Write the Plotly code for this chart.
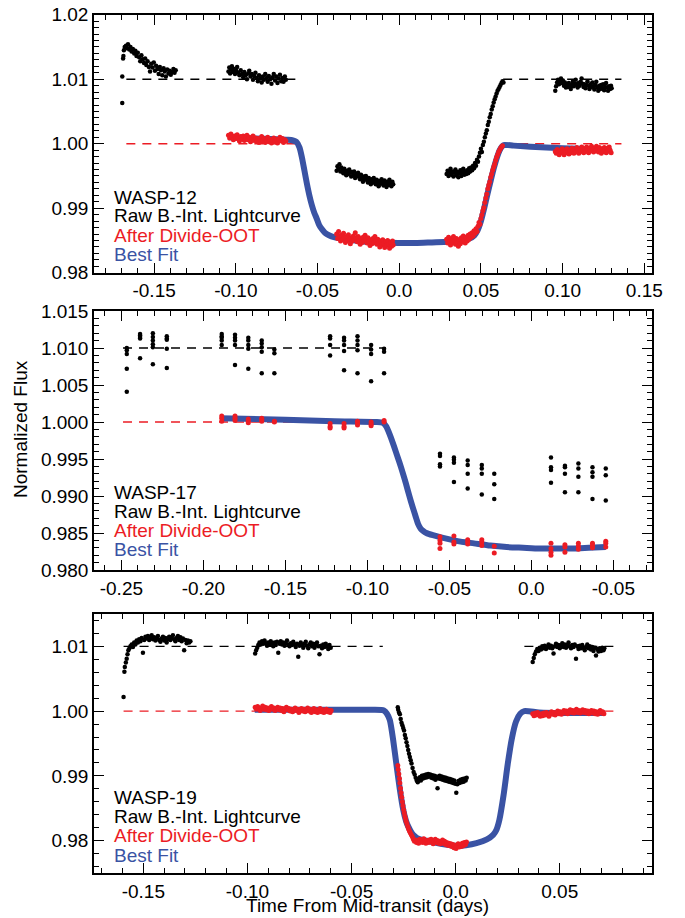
import plotly.graph_objects as go

# ---------------- data: WASP-12 (top panel) ----------------
w12_raw = [
    (-0.1695, 1.0063), (-0.1695, 1.0104), (-0.1690, 1.0132), (-0.1688, 1.0136), (-0.1685, 1.0145), (-0.1680, 1.0150),
    (-0.1672, 1.0152), (-0.1665, 1.0148), (-0.1660, 1.0154), (-0.1652, 1.0146), (-0.1645, 1.0150), (-0.1638, 1.0143),
    (-0.1630, 1.0147), (-0.1622, 1.0140), (-0.1615, 1.0144), (-0.1608, 1.0136), (-0.1600, 1.0141), (-0.1592, 1.0134),
    (-0.1585, 1.0128), (-0.1578, 1.0137), (-0.1570, 1.0131), (-0.1562, 1.0125), (-0.1555, 1.0132), (-0.1548, 1.0122),
    (-0.1540, 1.0128), (-0.1532, 1.0119), (-0.1525, 1.0112), (-0.1518, 1.0124), (-0.1510, 1.0118), (-0.1502, 1.0126),
    (-0.1495, 1.0113), (-0.1488, 1.0121), (-0.1480, 1.0116), (-0.1472, 1.0108), (-0.1465, 1.0119), (-0.1458, 1.0114),
    (-0.1450, 1.0106), (-0.1442, 1.0117), (-0.1435, 1.0112), (-0.1428, 1.0104), (-0.1420, 1.0115), (-0.1412, 1.0109),
    (-0.1405, 1.0113), (-0.1398, 1.0107), (-0.1390, 1.0111), (-0.1382, 1.0116), (-0.1375, 1.0110), (-0.1368, 1.0114),
    (-0.1045, 1.0112), (-0.1040, 1.0118), (-0.1035, 1.0109), (-0.1030, 1.0115), (-0.1024, 1.0120), (-0.1018, 1.0111),
    (-0.1012, 1.0116), (-0.1005, 1.0108), (-0.0998, 1.0113), (-0.0992, 1.0119), (-0.0985, 1.0110), (-0.0978, 1.0106),
    (-0.0970, 1.0114), (-0.0962, 1.0108), (-0.0955, 1.0103), (-0.0948, 1.0111), (-0.0940, 1.0106), (-0.0932, 1.0100),
    (-0.0925, 1.0109), (-0.0918, 1.0113), (-0.0910, 1.0104), (-0.0902, 1.0108), (-0.0895, 1.0099), (-0.0888, 1.0105),
    (-0.0880, 1.0110), (-0.0872, 1.0102), (-0.0865, 1.0097), (-0.0858, 1.0106), (-0.0850, 1.0101), (-0.0842, 1.0095),
    (-0.0835, 1.0104), (-0.0828, 1.0099), (-0.0820, 1.0108), (-0.0812, 1.0102), (-0.0805, 1.0096), (-0.0798, 1.0105),
    (-0.0790, 1.0100), (-0.0782, 1.0093), (-0.0775, 1.0103), (-0.0768, 1.0108), (-0.0760, 1.0098), (-0.0752, 1.0104),
    (-0.0745, 1.0094), (-0.0738, 1.0101), (-0.0730, 1.0107), (-0.0722, 1.0097), (-0.0715, 1.0102), (-0.0708, 1.0096),
    (-0.0700, 1.0104), (-0.0694, 1.0099),
    (-0.0383, 0.9958), (-0.0378, 0.9965), (-0.0372, 0.9961), (-0.0366, 0.9968), (-0.0360, 0.9957), (-0.0354, 0.9963),
    (-0.0348, 0.9959), (-0.0342, 0.9954), (-0.0336, 0.9961), (-0.0330, 0.9956), (-0.0324, 0.9951), (-0.0318, 0.9958),
    (-0.0312, 0.9953), (-0.0306, 0.9960), (-0.0300, 0.9955), (-0.0294, 0.9949), (-0.0288, 0.9956), (-0.0282, 0.9951),
    (-0.0276, 0.9957), (-0.0270, 0.9947), (-0.0264, 0.9953), (-0.0258, 0.9949), (-0.0252, 0.9955), (-0.0246, 0.9950),
    (-0.0240, 0.9945), (-0.0234, 0.9952), (-0.0228, 0.9947), (-0.0222, 0.9941), (-0.0216, 0.9949), (-0.0210, 0.9944),
    (-0.0204, 0.9950), (-0.0198, 0.9945), (-0.0192, 0.9940), (-0.0186, 0.9947), (-0.0180, 0.9942), (-0.0174, 0.9937),
    (-0.0168, 0.9945), (-0.0162, 0.9940), (-0.0156, 0.9947), (-0.0150, 0.9942), (-0.0144, 0.9937), (-0.0138, 0.9944),
    (-0.0132, 0.9939), (-0.0126, 0.9934), (-0.0120, 0.9942), (-0.0114, 0.9938), (-0.0108, 0.9945), (-0.0102, 0.9940),
    (-0.0096, 0.9935), (-0.0090, 0.9943), (-0.0084, 0.9938), (-0.0078, 0.9933), (-0.0072, 0.9941), (-0.0066, 0.9936),
    (-0.0060, 0.9944), (-0.0054, 0.9939), (-0.0048, 0.9934), (-0.0042, 0.9941), (-0.0037, 0.9937),
    (0.0290, 0.9953), (0.0296, 0.9958), (0.0302, 0.9950), (0.0308, 0.9956), (0.0314, 0.9961), (0.0320, 0.9952),
    (0.0326, 0.9957), (0.0332, 0.9949), (0.0338, 0.9955), (0.0344, 0.9960), (0.0350, 0.9951), (0.0356, 0.9956),
    (0.0362, 0.9948), (0.0368, 0.9954), (0.0374, 0.9959), (0.0380, 0.9950), (0.0386, 0.9956), (0.0392, 0.9961),
    (0.0398, 0.9952), (0.0404, 0.9957), (0.0410, 0.9953), (0.0416, 0.9959), (0.0422, 0.9954), (0.0428, 0.9962),
    (0.0434, 0.9957), (0.0440, 0.9963), (0.0446, 0.9959), (0.0452, 0.9966), (0.0458, 0.9962), (0.0464, 0.9970),
    (0.0470, 0.9966), (0.0476, 0.9975), (0.0482, 0.9972), (0.0488, 0.9980), (0.0494, 0.9986), (0.0500, 0.9992),
    (0.0506, 0.9987), (0.0512, 0.9998), (0.0518, 1.0003), (0.0524, 1.0010), (0.0530, 1.0016), (0.0536, 1.0021),
    (0.0542, 1.0029), (0.0548, 1.0034), (0.0554, 1.0041), (0.0560, 1.0046), (0.0566, 1.0053), (0.0572, 1.0058),
    (0.0578, 1.0064), (0.0584, 1.0069), (0.0590, 1.0073), (0.0596, 1.0078), (0.0602, 1.0082), (0.0608, 1.0085),
    (0.0614, 1.0088), (0.0620, 1.0091), (0.0626, 1.0094), (0.0632, 1.0097), (0.0638, 1.0095),
    (0.0955, 1.0082), (0.0960, 1.0089), (0.0966, 1.0095), (0.0972, 1.0099), (0.0978, 1.0092), (0.0984, 1.0097),
    (0.0990, 1.0101), (0.0996, 1.0094), (0.1002, 1.0098), (0.1008, 1.0090), (0.1014, 1.0095), (0.1020, 1.0087),
    (0.1026, 1.0092), (0.1032, 1.0088), (0.1038, 1.0094), (0.1044, 1.0089), (0.1050, 1.0085), (0.1056, 1.0091),
    (0.1062, 1.0096), (0.1068, 1.0089), (0.1074, 1.0093), (0.1080, 1.0099), (0.1086, 1.0092), (0.1092, 1.0087),
    (0.1098, 1.0094), (0.1104, 1.0090), (0.1110, 1.0096), (0.1116, 1.0101), (0.1122, 1.0093), (0.1128, 1.0088),
    (0.1134, 1.0092), (0.1140, 1.0086), (0.1146, 1.0091), (0.1152, 1.0097), (0.1158, 1.0090), (0.1164, 1.0085),
    (0.1170, 1.0092), (0.1176, 1.0088), (0.1182, 1.0095), (0.1188, 1.0089), (0.1194, 1.0084), (0.1200, 1.0091),
    (0.1206, 1.0096), (0.1212, 1.0087), (0.1218, 1.0082), (0.1224, 1.0090), (0.1230, 1.0085), (0.1236, 1.0091),
    (0.1242, 1.0086), (0.1248, 1.0092), (0.1254, 1.0083), (0.1260, 1.0088), (0.1266, 1.0094), (0.1272, 1.0087),
    (0.1278, 1.0082), (0.1284, 1.0089), (0.1290, 1.0085), (0.1296, 1.0090), (0.1300, 1.0086),
]
w12_oot = [
    (-0.1045, 1.0013), (-0.1038, 1.0009), (-0.1030, 1.0015), (-0.1022, 1.0010), (-0.1015, 1.0006), (-0.1008, 1.0012),
    (-0.1000, 1.0008), (-0.0992, 1.0014), (-0.0985, 1.0009), (-0.0978, 1.0004), (-0.0970, 1.0011), (-0.0962, 1.0007),
    (-0.0955, 1.0012), (-0.0948, 1.0005), (-0.0940, 1.0009), (-0.0932, 1.0013), (-0.0925, 1.0006), (-0.0918, 1.0010),
    (-0.0910, 1.0003), (-0.0902, 1.0008), (-0.0895, 1.0012), (-0.0888, 1.0005), (-0.0880, 1.0009), (-0.0872, 1.0004),
    (-0.0865, 1.0008), (-0.0858, 1.0002), (-0.0850, 1.0007), (-0.0842, 1.0011), (-0.0835, 1.0004), (-0.0828, 1.0008),
    (-0.0820, 1.0002), (-0.0812, 1.0006), (-0.0805, 1.0010), (-0.0798, 1.0003), (-0.0790, 1.0007), (-0.0782, 1.0001),
    (-0.0775, 1.0005), (-0.0768, 1.0009), (-0.0760, 1.0003), (-0.0752, 1.0007), (-0.0745, 1.0001), (-0.0738, 1.0006),
    (-0.0730, 1.0010), (-0.0722, 1.0004), (-0.0715, 1.0008), (-0.0708, 1.0002), (-0.0700, 1.0006), (-0.0694, 1.0004),
    (-0.0383, 0.9860), (-0.0377, 0.9853), (-0.0371, 0.9864), (-0.0365, 0.9857), (-0.0359, 0.9849), (-0.0353, 0.9858),
    (-0.0347, 0.9852), (-0.0341, 0.9861), (-0.0335, 0.9855), (-0.0329, 0.9847), (-0.0323, 0.9856), (-0.0317, 0.9850),
    (-0.0311, 0.9859), (-0.0305, 0.9853), (-0.0299, 0.9845), (-0.0293, 0.9854), (-0.0287, 0.9849), (-0.0281, 0.9857),
    (-0.0275, 0.9851), (-0.0269, 0.9862), (-0.0263, 0.9854), (-0.0257, 0.9848), (-0.0251, 0.9856), (-0.0245, 0.9850),
    (-0.0239, 0.9844), (-0.0233, 0.9853), (-0.0227, 0.9847), (-0.0221, 0.9855), (-0.0215, 0.9849), (-0.0209, 0.9858),
    (-0.0203, 0.9852), (-0.0197, 0.9846), (-0.0191, 0.9854), (-0.0185, 0.9848), (-0.0179, 0.9842), (-0.0173, 0.9851),
    (-0.0167, 0.9845), (-0.0161, 0.9853), (-0.0155, 0.9847), (-0.0149, 0.9856), (-0.0143, 0.9850), (-0.0137, 0.9844),
    (-0.0131, 0.9852), (-0.0125, 0.9846), (-0.0119, 0.9840), (-0.0113, 0.9849), (-0.0107, 0.9843), (-0.0101, 0.9851),
    (-0.0095, 0.9845), (-0.0089, 0.9839), (-0.0083, 0.9848), (-0.0077, 0.9842), (-0.0071, 0.9850), (-0.0065, 0.9844),
    (-0.0059, 0.9838), (-0.0053, 0.9847), (-0.0047, 0.9841), (-0.0041, 0.9849), (-0.0037, 0.9843),
    (0.0290, 0.9852), (0.0296, 0.9846), (0.0302, 0.9855), (0.0308, 0.9849), (0.0314, 0.9843), (0.0320, 0.9852),
    (0.0326, 0.9847), (0.0332, 0.9856), (0.0338, 0.9850), (0.0344, 0.9844), (0.0350, 0.9853), (0.0356, 0.9847),
    (0.0362, 0.9841), (0.0368, 0.9851), (0.0374, 0.9845), (0.0380, 0.9854), (0.0386, 0.9848), (0.0392, 0.9857),
    (0.0398, 0.9851), (0.0404, 0.9846), (0.0410, 0.9855), (0.0416, 0.9849), (0.0422, 0.9858), (0.0428, 0.9852),
    (0.0434, 0.9860), (0.0440, 0.9855), (0.0446, 0.9862), (0.0452, 0.9857), (0.0458, 0.9865), (0.0464, 0.9861),
    (0.0470, 0.9868), (0.0476, 0.9864), (0.0482, 0.9872), (0.0488, 0.9878), (0.0494, 0.9875), (0.0500, 0.9884),
    (0.0506, 0.9890), (0.0512, 0.9896), (0.0518, 0.9901), (0.0524, 0.9909), (0.0530, 0.9916), (0.0536, 0.9922),
    (0.0542, 0.9930), (0.0548, 0.9936), (0.0554, 0.9941), (0.0560, 0.9948), (0.0566, 0.9953), (0.0572, 0.9959),
    (0.0578, 0.9964), (0.0584, 0.9968), (0.0590, 0.9974), (0.0596, 0.9979), (0.0602, 0.9983), (0.0608, 0.9987),
    (0.0614, 0.9990), (0.0620, 0.9993), (0.0626, 0.9995), (0.0632, 0.9997),
    (0.0955, 0.9988), (0.0961, 0.9985), (0.0967, 0.9991), (0.0973, 0.9987), (0.0979, 0.9983), (0.0985, 0.9989),
    (0.0991, 0.9986), (0.0997, 0.9992), (0.1003, 0.9987), (0.1009, 0.9983), (0.1015, 0.9990), (0.1021, 0.9986),
    (0.1027, 0.9992), (0.1033, 0.9988), (0.1039, 0.9984), (0.1045, 0.9990), (0.1051, 0.9986), (0.1057, 0.9993),
    (0.1063, 0.9989), (0.1069, 0.9985), (0.1075, 0.9991), (0.1081, 0.9987), (0.1087, 0.9994), (0.1093, 0.9989),
    (0.1099, 0.9985), (0.1105, 0.9991), (0.1111, 0.9988), (0.1117, 0.9995), (0.1123, 0.9990), (0.1129, 0.9986),
    (0.1135, 0.9992), (0.1141, 0.9988), (0.1147, 0.9995), (0.1153, 0.9991), (0.1159, 0.9986), (0.1165, 0.9993),
    (0.1171, 0.9989), (0.1177, 0.9996), (0.1183, 0.9991), (0.1189, 0.9987), (0.1195, 0.9993), (0.1201, 0.9989),
    (0.1207, 0.9996), (0.1213, 0.9992), (0.1219, 0.9987), (0.1225, 0.9994), (0.1231, 0.9990), (0.1237, 0.9985),
    (0.1243, 0.9992), (0.1249, 0.9988), (0.1255, 0.9994), (0.1261, 0.9990), (0.1267, 0.9986), (0.1273, 0.9993),
    (0.1279, 0.9989), (0.1285, 0.9995), (0.1291, 0.9990), (0.1297, 0.9986),
]
w12_fit_t = [-0.1046, -0.0900, -0.0750, -0.0680, -0.0650, -0.0630, -0.0610, -0.0595, -0.0580, -0.0565, -0.0550,
             -0.0535, -0.0520, -0.0505, -0.0490, -0.0475, -0.0455, -0.0430, -0.0400, -0.0300, -0.0200, -0.0100,
             0.0000, 0.0100, 0.0200, 0.0300, 0.0380, 0.0430, 0.0460, 0.0480, 0.0500, 0.0520, 0.0540, 0.0560,
             0.0580, 0.0600, 0.0615, 0.0630, 0.0640, 0.0700, 0.0900, 0.1100, 0.1300]
w12_fit_f = [1.0010, 1.0008, 1.0007, 1.0006, 1.0005, 1.0003, 0.9994, 0.9978, 0.9958, 0.9938, 0.9920,
             0.9905, 0.9893, 0.9884, 0.9874, 0.9868, 0.9862, 0.9858, 0.9855, 0.9851, 0.9848, 0.9847,
             0.9846, 0.9846, 0.9847, 0.9848, 0.9850, 0.9853, 0.9858, 0.9866, 0.9880, 0.9900, 0.9922, 0.9943,
             0.9963, 0.9980, 0.9990, 0.9996, 0.9998, 0.9997, 0.9994, 0.9992, 0.9989]
w12_ref_spans = [(-0.167, -0.063), (0.0636, 0.136)]

# ---------------- data: WASP-17 (middle panel) ----------------
w17_raw_groups = [
    (-0.2467, [1.0100, 1.0097, 1.0092, 1.0072, 1.0041]),
    (-0.2386, [1.0119, 1.0117, 1.0115, 1.0113, 1.0086]),
    (-0.2308, [1.0120, 1.0115, 1.0110, 1.0105, 1.0101, 1.0078]),
    (-0.2223, [1.0116, 1.0113, 1.0111, 1.0099, 1.0073]),
    (-0.1888, [1.0119, 1.0116, 1.0114, 1.0110, 1.0104]),
    (-0.1807, [1.0118, 1.0114, 1.0110, 1.0104, 1.0077]),
    (-0.1726, [1.0114, 1.0110, 1.0104, 1.0099, 1.0072]),
    (-0.1644, [1.0110, 1.0106, 1.0101, 1.0095, 1.0066]),
    (-0.1567, [1.0098, 1.0093, 1.0066]),
    (-0.1227, [1.0116, 1.0113, 1.0104, 1.0090]),
    (-0.1142, [1.0114, 1.0110, 1.0104, 1.0096, 1.0070]),
    (-0.1060, [1.0116, 1.0110, 1.0104, 1.0097, 1.0066]),
    (-0.0977, [1.0104, 1.0098, 1.0092, 1.0055]),
    (-0.0898, [1.0099, 1.0095, 1.0066]),
    (-0.0557, [0.9957, 0.9954, 0.9943, 0.9940]),
    (-0.0472, [0.9952, 0.9949, 0.9945, 0.9919]),
    (-0.0388, [0.9948, 0.9942, 0.9930, 0.9910]),
    (-0.0302, [0.9942, 0.9937, 0.9930, 0.9902]),
    (-0.0226, [0.9930, 0.9916, 0.9896]),
    (0.0120, [0.9952, 0.9939, 0.9935, 0.9918]),
    (0.0205, [0.9941, 0.9939, 0.9930, 0.9905]),
    (0.0287, [0.9944, 0.9937, 0.9926, 0.9905]),
    (0.0373, [0.9939, 0.9932, 0.9926, 0.9896]),
    (0.0454, [0.9937, 0.9928, 0.9894]),
]
w17_oot_groups = [
    (-0.1888, [1.0008, 1.0005, 1.0001]),
    (-0.1807, [1.0008, 1.0005, 1.0002]),
    (-0.1726, [1.0004, 1.0001, 0.9999]),
    (-0.1644, [1.0005, 1.0003, 1.0001]),
    (-0.1567, [1.0001, 1.0000]),
    (-0.1227, [0.9998, 0.9994, 0.9992]),
    (-0.1142, [0.9998, 0.9994, 0.9992]),
    (-0.1060, [1.0001, 0.9999, 0.9996]),
    (-0.0977, [1.0000, 0.9997, 0.9995]),
    (-0.0898, [1.0002, 1.0000]),
    (-0.0557, [0.9845, 0.9840, 0.9836, 0.9829]),
    (-0.0472, [0.9846, 0.9838, 0.9835]),
    (-0.0388, [0.9841, 0.9838, 0.9835]),
    (-0.0302, [0.9841, 0.9838, 0.9833]),
    (-0.0226, [0.9832, 0.9823]),
    (0.0120, [0.9836, 0.9829, 0.9824, 0.9820]),
    (0.0205, [0.9834, 0.9831, 0.9824]),
    (0.0287, [0.9836, 0.9832, 0.9828]),
    (0.0373, [0.9836, 0.9833, 0.9830]),
    (0.0454, [0.9839, 0.9836, 0.9831]),
]
w17_fit_t = [-0.1898, -0.1500, -0.1200, -0.0950, -0.0905, -0.0885, -0.0865, -0.0845, -0.0825, -0.0805, -0.0785,
             -0.0765, -0.0745, -0.0725, -0.0705, -0.0690, -0.0675, -0.0660, -0.0640, -0.0600, -0.0550, -0.0450,
             -0.0350, -0.0250, -0.0150, -0.0050, 0.0050, 0.0150, 0.0250, 0.0350, 0.0454]
w17_fit_f = [1.0005, 1.0003, 1.0001, 1.0000, 0.9999, 0.9994, 0.9984, 0.9972, 0.9959, 0.9946, 0.9932,
             0.9917, 0.9901, 0.9886, 0.9872, 0.9862, 0.9856, 0.9853, 0.9850, 0.9847, 0.9844, 0.9839,
             0.9836, 0.9833, 0.9831, 0.9830, 0.9829, 0.9829, 0.9829, 0.9830, 0.9831]
w17_ref_spans = [(-0.249, -0.0886)]

# ---------------- data: WASP-19 (bottom panel) ----------------
w19_raw = [
    (-0.1595, 1.0022), (-0.1591, 1.0061), (-0.1589, 1.0068), (-0.1584, 1.0075), (-0.1580, 1.0081), (-0.1576, 1.0088),
    (-0.1572, 1.0094), (-0.1567, 1.0097), (-0.1562, 1.0100), (-0.1556, 1.0103), (-0.1550, 1.0099), (-0.1544, 1.0106),
    (-0.1538, 1.0103), (-0.1532, 1.0109), (-0.1526, 1.0106), (-0.1520, 1.0111), (-0.1514, 1.0108), (-0.1508, 1.0113),
    (-0.1502, 1.0090), (-0.1496, 1.0110), (-0.1490, 1.0115), (-0.1484, 1.0112), (-0.1478, 1.0116), (-0.1472, 1.0110),
    (-0.1466, 1.0113), (-0.1460, 1.0117), (-0.1454, 1.0111), (-0.1448, 1.0114), (-0.1442, 1.0109), (-0.1436, 1.0113),
    (-0.1430, 1.0116), (-0.1424, 1.0110), (-0.1418, 1.0107), (-0.1412, 1.0112), (-0.1406, 1.0115), (-0.1400, 1.0109),
    (-0.1394, 1.0113), (-0.1388, 1.0106), (-0.1382, 1.0111), (-0.1376, 1.0115), (-0.1370, 1.0110), (-0.1364, 1.0113),
    (-0.1358, 1.0117), (-0.1352, 1.0111), (-0.1346, 1.0108), (-0.1340, 1.0113), (-0.1334, 1.0116), (-0.1328, 1.0110),
    (-0.1322, 1.0114), (-0.1316, 1.0108), (-0.1310, 1.0112), (-0.1304, 1.0094), (-0.1298, 1.0110), (-0.1292, 1.0105),
    (-0.1286, 1.0109), (-0.1280, 1.0106), (-0.1274, 1.0108),
    (-0.0963, 1.0089), (-0.0958, 1.0094), (-0.0953, 1.0098), (-0.0948, 1.0102), (-0.0942, 1.0106), (-0.0936, 1.0103),
    (-0.0930, 1.0108), (-0.0924, 1.0104), (-0.0918, 1.0109), (-0.0912, 1.0105), (-0.0906, 1.0101), (-0.0900, 1.0106),
    (-0.0894, 1.0103), (-0.0888, 1.0108), (-0.0882, 1.0104), (-0.0876, 1.0100), (-0.0870, 1.0106), (-0.0864, 1.0102),
    (-0.0858, 1.0107), (-0.0852, 1.0090), (-0.0846, 1.0104), (-0.0840, 1.0108), (-0.0834, 1.0103), (-0.0828, 1.0106),
    (-0.0822, 1.0101), (-0.0816, 1.0105), (-0.0810, 1.0109), (-0.0804, 1.0103), (-0.0798, 1.0100), (-0.0792, 1.0105),
    (-0.0786, 1.0102), (-0.0780, 1.0107), (-0.0774, 1.0103), (-0.0768, 1.0099), (-0.0762, 1.0104), (-0.0756, 1.0084),
    (-0.0750, 1.0101), (-0.0744, 1.0106), (-0.0738, 1.0102), (-0.0732, 1.0098), (-0.0726, 1.0104), (-0.0720, 1.0107),
    (-0.0714, 1.0101), (-0.0708, 1.0097), (-0.0702, 1.0103), (-0.0696, 1.0106), (-0.0690, 1.0100), (-0.0684, 1.0104),
    (-0.0678, 1.0098), (-0.0672, 1.0102), (-0.0666, 1.0106), (-0.0660, 1.0100), (-0.0654, 1.0088), (-0.0648, 1.0101),
    (-0.0642, 1.0097), (-0.0636, 1.0103), (-0.0630, 1.0099), (-0.0624, 1.0104), (-0.0618, 1.0100), (-0.0612, 1.0096),
    (-0.0606, 1.0102), (-0.0600, 1.0098),
    (-0.0278, 1.0006), (-0.0276, 1.0002), (-0.0272, 0.9998), (-0.0268, 0.9995), (-0.0264, 0.9988), (-0.0260, 0.9982),
    (-0.0256, 0.9978), (-0.0252, 0.9974), (-0.0248, 0.9970), (-0.0244, 0.9963), (-0.0240, 0.9958), (-0.0236, 0.9952),
    (-0.0232, 0.9946), (-0.0228, 0.9940), (-0.0224, 0.9934), (-0.0220, 0.9929), (-0.0216, 0.9924), (-0.0212, 0.9919),
    (-0.0207, 0.9912), (-0.0202, 0.9906), (-0.0197, 0.9902), (-0.0192, 0.9897), (-0.0187, 0.9893), (-0.0182, 0.9890),
    (-0.0177, 0.9895), (-0.0172, 0.9898), (-0.0167, 0.9893), (-0.0162, 0.9900), (-0.0157, 0.9896), (-0.0152, 0.9901),
    (-0.0147, 0.9897), (-0.0142, 0.9902), (-0.0137, 0.9898), (-0.0132, 0.9903), (-0.0127, 0.9899), (-0.0122, 0.9902),
    (-0.0117, 0.9897), (-0.0112, 0.9901), (-0.0107, 0.9896), (-0.0102, 0.9900), (-0.0097, 0.9894), (-0.0092, 0.9899),
    (-0.0087, 0.9881), (-0.0082, 0.9896), (-0.0077, 0.9900), (-0.0072, 0.9895), (-0.0067, 0.9899), (-0.0062, 0.9894),
    (-0.0057, 0.9898), (-0.0052, 0.9893), (-0.0047, 0.9897), (-0.0042, 0.9892), (-0.0037, 0.9896), (-0.0032, 0.9891),
    (-0.0027, 0.9895), (-0.0022, 0.9890), (-0.0017, 0.9894), (-0.0012, 0.9889), (-0.0007, 0.9893), (-0.0002, 0.9888),
    (0.0003, 0.9874), (0.0008, 0.9887), (0.0013, 0.9892), (0.0018, 0.9889), (0.0023, 0.9894), (0.0028, 0.9890),
    (0.0033, 0.9895), (0.0038, 0.9891), (0.0043, 0.9896), (0.0048, 0.9893), (0.0053, 0.9897),
    (0.0370, 1.0076), (0.0375, 1.0082), (0.0380, 1.0088), (0.0386, 1.0092), (0.0392, 1.0096), (0.0398, 1.0093),
    (0.0404, 1.0098), (0.0410, 1.0095), (0.0416, 1.0100), (0.0422, 1.0097), (0.0428, 1.0101), (0.0434, 1.0096),
    (0.0440, 1.0099), (0.0446, 1.0103), (0.0452, 1.0098), (0.0458, 1.0101), (0.0464, 1.0097), (0.0470, 1.0089),
    (0.0476, 1.0100), (0.0482, 1.0104), (0.0488, 1.0099), (0.0494, 1.0102), (0.0500, 1.0097), (0.0506, 1.0101),
    (0.0512, 1.0105), (0.0518, 1.0099), (0.0524, 1.0103), (0.0530, 1.0098), (0.0536, 1.0102), (0.0542, 1.0106),
    (0.0548, 1.0100), (0.0554, 1.0097), (0.0560, 1.0102), (0.0566, 1.0099), (0.0572, 1.0103), (0.0578, 1.0081),
    (0.0584, 1.0100), (0.0590, 1.0096), (0.0596, 1.0101), (0.0602, 1.0097), (0.0608, 1.0102), (0.0614, 1.0098),
    (0.0620, 1.0094), (0.0626, 1.0099), (0.0632, 1.0103), (0.0638, 1.0097), (0.0644, 1.0100), (0.0650, 1.0095),
    (0.0656, 1.0099), (0.0662, 1.0093), (0.0668, 1.0098), (0.0674, 1.0086), (0.0680, 1.0096), (0.0686, 1.0092),
    (0.0692, 1.0097), (0.0698, 1.0093), (0.0704, 1.0098), (0.0710, 1.0094), (0.0714, 1.0097),
]
w19_oot = [
    (-0.0963, 1.0006), (-0.0957, 1.0003), (-0.0951, 1.0007), (-0.0945, 1.0004), (-0.0939, 1.0001), (-0.0933, 1.0005),
    (-0.0927, 1.0008), (-0.0921, 1.0003), (-0.0915, 1.0006), (-0.0909, 1.0002), (-0.0903, 1.0005), (-0.0897, 1.0001),
    (-0.0891, 1.0004), (-0.0885, 1.0007), (-0.0879, 1.0003), (-0.0873, 1.0005), (-0.0867, 1.0001), (-0.0861, 1.0004),
    (-0.0855, 1.0006), (-0.0849, 1.0002), (-0.0843, 1.0005), (-0.0837, 1.0001), (-0.0831, 1.0004), (-0.0825, 0.9999),
    (-0.0819, 1.0003), (-0.0813, 1.0006), (-0.0807, 1.0002), (-0.0801, 1.0004), (-0.0795, 1.0000), (-0.0789, 1.0003),
    (-0.0783, 0.9999), (-0.0777, 1.0002), (-0.0771, 1.0005), (-0.0765, 1.0001), (-0.0759, 1.0003), (-0.0753, 0.9998),
    (-0.0747, 1.0002), (-0.0741, 1.0004), (-0.0735, 1.0000), (-0.0729, 1.0003), (-0.0723, 0.9999), (-0.0717, 1.0002),
    (-0.0711, 1.0005), (-0.0705, 1.0000), (-0.0699, 1.0003), (-0.0693, 0.9998), (-0.0687, 1.0001), (-0.0681, 1.0004),
    (-0.0675, 0.9999), (-0.0669, 1.0002), (-0.0663, 0.9998), (-0.0657, 1.0001), (-0.0651, 1.0004), (-0.0645, 0.9999),
    (-0.0639, 1.0002), (-0.0633, 0.9998), (-0.0627, 1.0001), (-0.0621, 1.0003), (-0.0615, 0.9999), (-0.0609, 1.0001),
    (-0.0603, 0.9998), (-0.0598, 1.0001),
    (-0.0278, 0.9916), (-0.0276, 0.9910), (-0.0273, 0.9903), (-0.0270, 0.9896), (-0.0268, 0.9889), (-0.0265, 0.9881),
    (-0.0262, 0.9874), (-0.0259, 0.9867), (-0.0256, 0.9860), (-0.0253, 0.9854), (-0.0250, 0.9848), (-0.0247, 0.9843),
    (-0.0244, 0.9838), (-0.0241, 0.9834), (-0.0238, 0.9830), (-0.0234, 0.9826), (-0.0230, 0.9822), (-0.0226, 0.9818),
    (-0.0222, 0.9815), (-0.0218, 0.9812), (-0.0213, 0.9809), (-0.0208, 0.9806), (-0.0203, 0.9802), (-0.0198, 0.9799),
    (-0.0193, 0.9801), (-0.0188, 0.9797), (-0.0183, 0.9800), (-0.0178, 0.9796), (-0.0173, 0.9802), (-0.0168, 0.9798),
    (-0.0163, 0.9801), (-0.0158, 0.9797), (-0.0153, 0.9803), (-0.0148, 0.9799), (-0.0143, 0.9796), (-0.0138, 0.9800),
    (-0.0133, 0.9797), (-0.0128, 0.9801), (-0.0123, 0.9798), (-0.0118, 0.9802), (-0.0113, 0.9798), (-0.0108, 0.9795),
    (-0.0103, 0.9799), (-0.0098, 0.9802), (-0.0093, 0.9797), (-0.0088, 0.9800), (-0.0083, 0.9796), (-0.0078, 0.9799),
    (-0.0073, 0.9795), (-0.0068, 0.9798), (-0.0063, 0.9801), (-0.0058, 0.9796), (-0.0053, 0.9799), (-0.0048, 0.9794),
    (-0.0043, 0.9797), (-0.0038, 0.9793), (-0.0033, 0.9796), (-0.0028, 0.9792), (-0.0023, 0.9795), (-0.0018, 0.9791),
    (-0.0013, 0.9794), (-0.0008, 0.9789), (-0.0003, 0.9793), (0.0002, 0.9788), (0.0007, 0.9792), (0.0012, 0.9795),
    (0.0017, 0.9790), (0.0022, 0.9794), (0.0027, 0.9791), (0.0032, 0.9796), (0.0037, 0.9792), (0.0042, 0.9797),
    (0.0047, 0.9794), (0.0052, 0.9798),
    (0.0370, 0.9996), (0.0376, 0.9993), (0.0382, 0.9997), (0.0388, 0.9994), (0.0394, 0.9998), (0.0400, 0.9995),
    (0.0406, 0.9992), (0.0412, 0.9996), (0.0418, 0.9993), (0.0424, 0.9997), (0.0430, 0.9994), (0.0436, 0.9998),
    (0.0442, 0.9995), (0.0448, 0.9992), (0.0454, 0.9996), (0.0460, 0.9999), (0.0466, 0.9995), (0.0472, 0.9998),
    (0.0478, 0.9994), (0.0484, 0.9997), (0.0490, 1.0000), (0.0496, 0.9996), (0.0502, 0.9999), (0.0508, 0.9995),
    (0.0514, 0.9998), (0.0520, 1.0001), (0.0526, 0.9997), (0.0532, 1.0000), (0.0538, 0.9996), (0.0544, 0.9999),
    (0.0550, 1.0002), (0.0556, 0.9998), (0.0562, 1.0001), (0.0568, 0.9997), (0.0574, 1.0000), (0.0580, 1.0003),
    (0.0586, 0.9998), (0.0592, 1.0001), (0.0598, 0.9997), (0.0604, 1.0000), (0.0610, 1.0002), (0.0616, 0.9998),
    (0.0622, 1.0001), (0.0628, 0.9997), (0.0634, 1.0000), (0.0640, 0.9996), (0.0646, 0.9999), (0.0652, 1.0001),
    (0.0658, 0.9997), (0.0664, 1.0000), (0.0670, 0.9996), (0.0676, 0.9999), (0.0682, 0.9995), (0.0688, 0.9998),
    (0.0694, 1.0001), (0.0700, 0.9997), (0.0706, 0.9999), (0.0712, 0.9996),
]
w19_fit_t = [-0.0965, -0.0600, -0.0400, -0.0345, -0.0330, -0.0316, -0.0300, -0.0283, -0.0268, -0.0252, -0.0238,
             -0.0228, -0.0215, -0.0204, -0.0185, -0.0156, -0.0100, -0.0050, 0.0000, 0.0050, 0.0100, 0.0150,
             0.0180, 0.0195, 0.0210, 0.0230, 0.0250, 0.0270, 0.0290, 0.0310, 0.0330, 0.0400, 0.0550, 0.0714]
w19_fit_f = [1.0002, 1.0002, 1.0002, 1.0001, 0.9996, 0.9986, 0.9955, 0.9914, 0.9879, 0.9848, 0.9830,
             0.9822, 0.9814, 0.9809, 0.9804, 0.9801, 0.9797, 0.9794, 0.9792, 0.9793, 0.9796, 0.9802,
             0.9809, 0.9816, 0.9832, 0.9870, 0.9918, 0.9958, 0.9984, 0.9996, 1.0000, 0.9998, 0.9997, 0.9997]
w19_ref_spans = [(-0.1595, -0.0350), (0.0330, 0.0785)]

# ---------------- axes / labels ----------------
panel_names = ["WASP-12", "WASP-17", "WASP-19"]
legend_lines = ["Raw B.-Int. Lightcurve", "After Divide-OOT", "Best Fit"]
x_ranges = [[-0.1868, 0.1547], [-0.2667, 0.0736], [-0.1737, 0.0943]]
y_ranges = [[0.98, 1.02], [0.980, 1.015], [0.975, 1.015]]
x_tickvals = [[-0.15, -0.10, -0.05, 0.0, 0.05, 0.10, 0.15],
              [-0.25, -0.20, -0.15, -0.10, -0.05, 0.0, 0.05],
              [-0.15, -0.10, -0.05, 0.0, 0.05]]
x_ticktext = [["-0.15", "-0.10", "-0.05", "0.0", "0.05", "0.10", "0.15"],
              ["-0.25", "-0.20", "-0.15", "-0.10", "-0.05", "0.0", "-0.05"],
              ["-0.15", "-0.10", "-0.05", "0.0", "0.05"]]
y_tickvals = [[0.98, 0.99, 1.00, 1.01, 1.02],
              [0.980, 0.985, 0.990, 0.995, 1.000, 1.005, 1.010, 1.015],
              [0.98, 0.99, 1.00, 1.01]]
y_ticktext = [["0.98", "0.99", "1.00", "1.01", "1.02"],
              ["0.980", "0.985", "0.990", "0.995", "1.000", "1.005", "1.010", "1.015"],
              ["0.98", "0.99", "1.00", "1.01"]]
y_minor = [0.001, 0.001, 0.002]
raw_level = 1.01
oot_level = 1.00
x_title = "Time From Mid-transit (days)"
y_title = "Normalized Flux"

# ---------------- build ----------------
OFF = 8  # page body margin of the browser
W, H = 685 - OFF, 918 - OFF
BLACK = "#000000"
RED = "#EC1C24"
BLUE = "#3A53A4"
FONT = "Liberation Sans, Arial, Helvetica, sans-serif"


def px_x(p):
    return (p - OFF) / W


def px_y(p):
    return 1 - (p - OFF) / H


frame_px = [(14.7, 272.7), (311.0, 570.0), (614.0, 873.0)]
x_px = (94.0, 652.0)
text_rows = [(197.3, 216.0, 235.3, 254.7), (492.3, 511.0, 530.3, 549.7), (797.3, 816.7, 835.3, 855.3)]


def expand_groups(groups):
    ts, fs = [], []
    for t, vals in groups:
        for v in vals:
            ts.append(t)
            fs.append(v)
    return ts, fs


def unzip(pairs):
    return [p[0] for p in pairs], [p[1] for p in pairs]


w17_raw_t, w17_raw_f = expand_groups(w17_raw_groups)
w17_oot_t, w17_oot_f = expand_groups(w17_oot_groups)
w12_raw_t, w12_raw_f = unzip(w12_raw)
w12_oot_t, w12_oot_f = unzip(w12_oot)
w19_raw_t, w19_raw_f = unzip(w19_raw)
w19_oot_t, w19_oot_f = unzip(w19_oot)

panels = [
    (w12_raw_t, w12_raw_f, w12_oot_t, w12_oot_f, w12_fit_t, w12_fit_f, w12_ref_spans),
    (w17_raw_t, w17_raw_f, w17_oot_t, w17_oot_f, w17_fit_t, w17_fit_f, w17_ref_spans),
    (w19_raw_t, w19_raw_f, w19_oot_t, w19_oot_f, w19_fit_t, w19_fit_f, w19_ref_spans),
]

fig = go.Figure()
annotations = []
layout_axes = {}

tick_style = dict(ticks="inside", ticklen=10, tickwidth=1.3, tickcolor=BLACK, showgrid=False, zeroline=False,
                  automargin=False)
minor_style = dict(ticks="inside", ticklen=5, tickwidth=1.1, tickcolor=BLACK, tickmode="linear", tick0=0,
                   showgrid=False)

for i, (rt, rf, ot, of, ft, ff, spans) in enumerate(panels):
    n = "" if i == 0 else str(i + 1)
    m = str(i + 4)
    xa, ya = "x" + n, "y" + n
    for lvl, col in ((raw_level, BLACK), (oot_level, RED)):
        lx, ly = [], []
        for a, b in spans:
            lx += [a, b, None]
            ly += [lvl, lvl, None]
        fig.add_trace(go.Scatter(x=lx, y=ly, mode="lines", xaxis=xa, yaxis=ya, showlegend=False,
                                 line=dict(color=col, width=1.4, dash="9px,7px"), hoverinfo="skip"))
    fig.add_trace(go.Scatter(x=rt, y=rf, mode="markers", xaxis=xa, yaxis=ya, showlegend=False,
                             marker=dict(color=BLACK, size=4.5, line=dict(width=0))))
    fig.add_trace(go.Scatter(x=ft, y=ff, mode="lines", xaxis=xa, yaxis=ya, showlegend=False,
                             line=dict(color=BLUE, width=6, shape="spline", smoothing=0.6)))
    fig.add_trace(go.Scatter(x=ot, y=of, mode="markers", xaxis=xa, yaxis=ya, showlegend=False,
                             marker=dict(color=RED, size=5, line=dict(width=0))))
    fig.add_trace(go.Scatter(x=[], y=[], xaxis="x" + m, yaxis="y" + m, showlegend=False, hoverinfo="skip"))

    top, bot = frame_px[i]
    xdom = [px_x(x_px[0]), px_x(x_px[1])]
    ydom = [px_y(bot), px_y(top)]
    font = dict(family=FONT, size=19, color=BLACK)
    layout_axes["xaxis" + n] = dict(tick_style, domain=xdom, range=x_ranges[i], anchor=ya,
                                    showline=True, linecolor=BLACK, linewidth=1.5, mirror=True,
                                    tickmode="array", tickvals=x_tickvals[i], ticktext=x_ticktext[i],
                                    tickfont=font, ticklabeloverflow="allow",
                                    minor=dict(minor_style, dtick=0.01))
    layout_axes["yaxis" + n] = dict(tick_style, domain=ydom, range=y_ranges[i], anchor=xa,
                                    showline=True, linecolor=BLACK, linewidth=1.5, mirror=True,
                                    tickmode="array", tickvals=y_tickvals[i], ticktext=y_ticktext[i],
                                    tickfont=font, ticklabeloverflow="allow",
                                    minor=dict(minor_style, dtick=y_minor[i]))
    layout_axes["xaxis" + m] = dict(tick_style, overlaying=xa, side="top", anchor=ya, range=x_ranges[i],
                                    showticklabels=False, showline=False, tickmode="array",
                                    tickvals=x_tickvals[i], minor=dict(minor_style, dtick=0.01))
    layout_axes["yaxis" + m] = dict(tick_style, overlaying=ya, side="right", anchor=xa, range=y_ranges[i],
                                    showticklabels=False, showline=False, tickmode="array",
                                    tickvals=y_tickvals[i], minor=dict(minor_style, dtick=y_minor[i]))
    rows = text_rows[i]
    texts = [(panel_names[i], BLACK), (legend_lines[0], BLACK), (legend_lines[1], RED), (legend_lines[2], BLUE)]
    for (txt, col), yy in zip(texts, rows):
        annotations.append(dict(text=txt, x=px_x(112), y=px_y(yy), xref="paper", yref="paper",
                                xanchor="left", yanchor="middle", showarrow=False,
                                font=dict(family=FONT, size=19, color=col)))

annotations.append(dict(text=x_title, x=px_x(367), y=px_y(905), xref="paper", yref="paper",
                        xanchor="center", yanchor="middle", showarrow=False,
                        font=dict(family=FONT, size=19, color=BLACK)))
annotations.append(dict(text=y_title, x=px_x(20), y=px_y(429), xref="paper", yref="paper",
                        xanchor="center", yanchor="middle", showarrow=False, textangle=-90,
                        font=dict(family=FONT, size=19, color=BLACK)))

fig.update_layout(template="none", width=W, height=H, margin=dict(l=0, r=0, t=0, b=0, autoexpand=False),
                  paper_bgcolor="white", plot_bgcolor="white", showlegend=False,
                  annotations=annotations, **layout_axes)

fig.write_html("out.html")
